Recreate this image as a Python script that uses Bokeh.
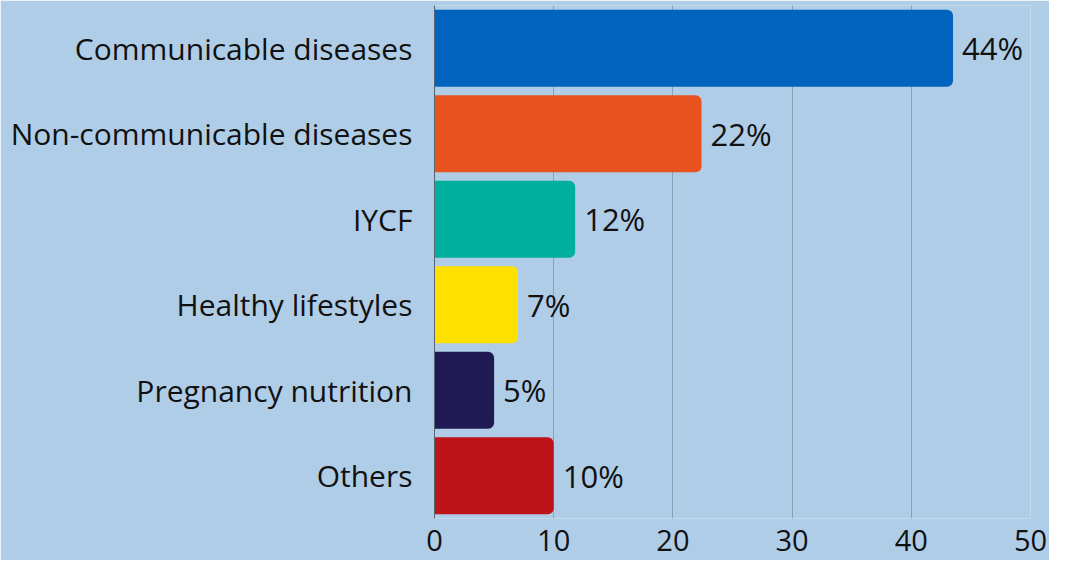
from bokeh.plotting import figure
from bokeh.models import ColumnDataSource, FixedTicker
from bokeh.core.properties import value
from bokeh.embed import file_html
from bokeh.resources import INLINE

categories = ["Communicable diseases", "Non-communicable diseases", "IYCF",
              "Healthy lifestyles", "Pregnancy nutrition", "Others"]
values = [43.5, 22.4, 11.8, 7.0, 5.0, 10.0]
labels = ["44%", "22%", "12%", "7%", "5%", "10%"]
colors = ["#0064BE", "#E8521E", "#00AF9D", "#FFE100", "#1F1A53", "#BE1319"]
x_ticks = [0, 10, 20, 30, 40, 50]

BG = "#B0CDE8"
FONT = "Open Sans"

src = ColumnDataSource(dict(cat=categories, val=values, lab=labels, col=colors))

p = figure(width=1049, height=560, y_range=list(reversed(categories)), x_range=(0, 50),
           output_backend="svg", toolbar_location=None,
           background_fill_color=BG, border_fill_color=BG,
           min_border_left=434, min_border_right=19, min_border_top=5, min_border_bottom=42)
p.outline_line_color = None

p.hbar(y="cat", right="val", left=0, height=0.9, fill_color="col", line_color=None,
       border_radius=(0, 6, 6, 0), source=src)

p.text(x="val", y="cat", text="lab", x_offset=9, text_baseline="middle", text_align="left",
       text_font=value(FONT), text_font_size="31px", text_color="#111111", source=src)

p.xaxis.ticker = FixedTicker(ticks=x_ticks)
p.xaxis.axis_line_color = None
p.xaxis.major_tick_line_color = None
p.xaxis.minor_tick_line_color = None
p.xaxis.major_label_text_font = FONT
p.xaxis.major_label_text_font_size = "29px"
p.xaxis.major_label_text_color = "#111111"
p.xaxis.major_label_standoff = 5

p.yaxis.axis_line_color = "#5a6470"
p.yaxis.axis_line_width = 1
p.yaxis.major_tick_line_color = None
p.yaxis.minor_tick_line_color = None
p.yaxis.major_label_text_font = FONT
p.yaxis.major_label_text_font_size = "30px"
p.yaxis.major_label_text_color = "#111111"
p.yaxis.major_label_standoff = 16

p.xgrid.grid_line_color = "#8aa0b8"
p.xgrid.grid_line_width = 1
p.ygrid.grid_line_color = None

open("out.html", "w").write(file_html(p, INLINE))
